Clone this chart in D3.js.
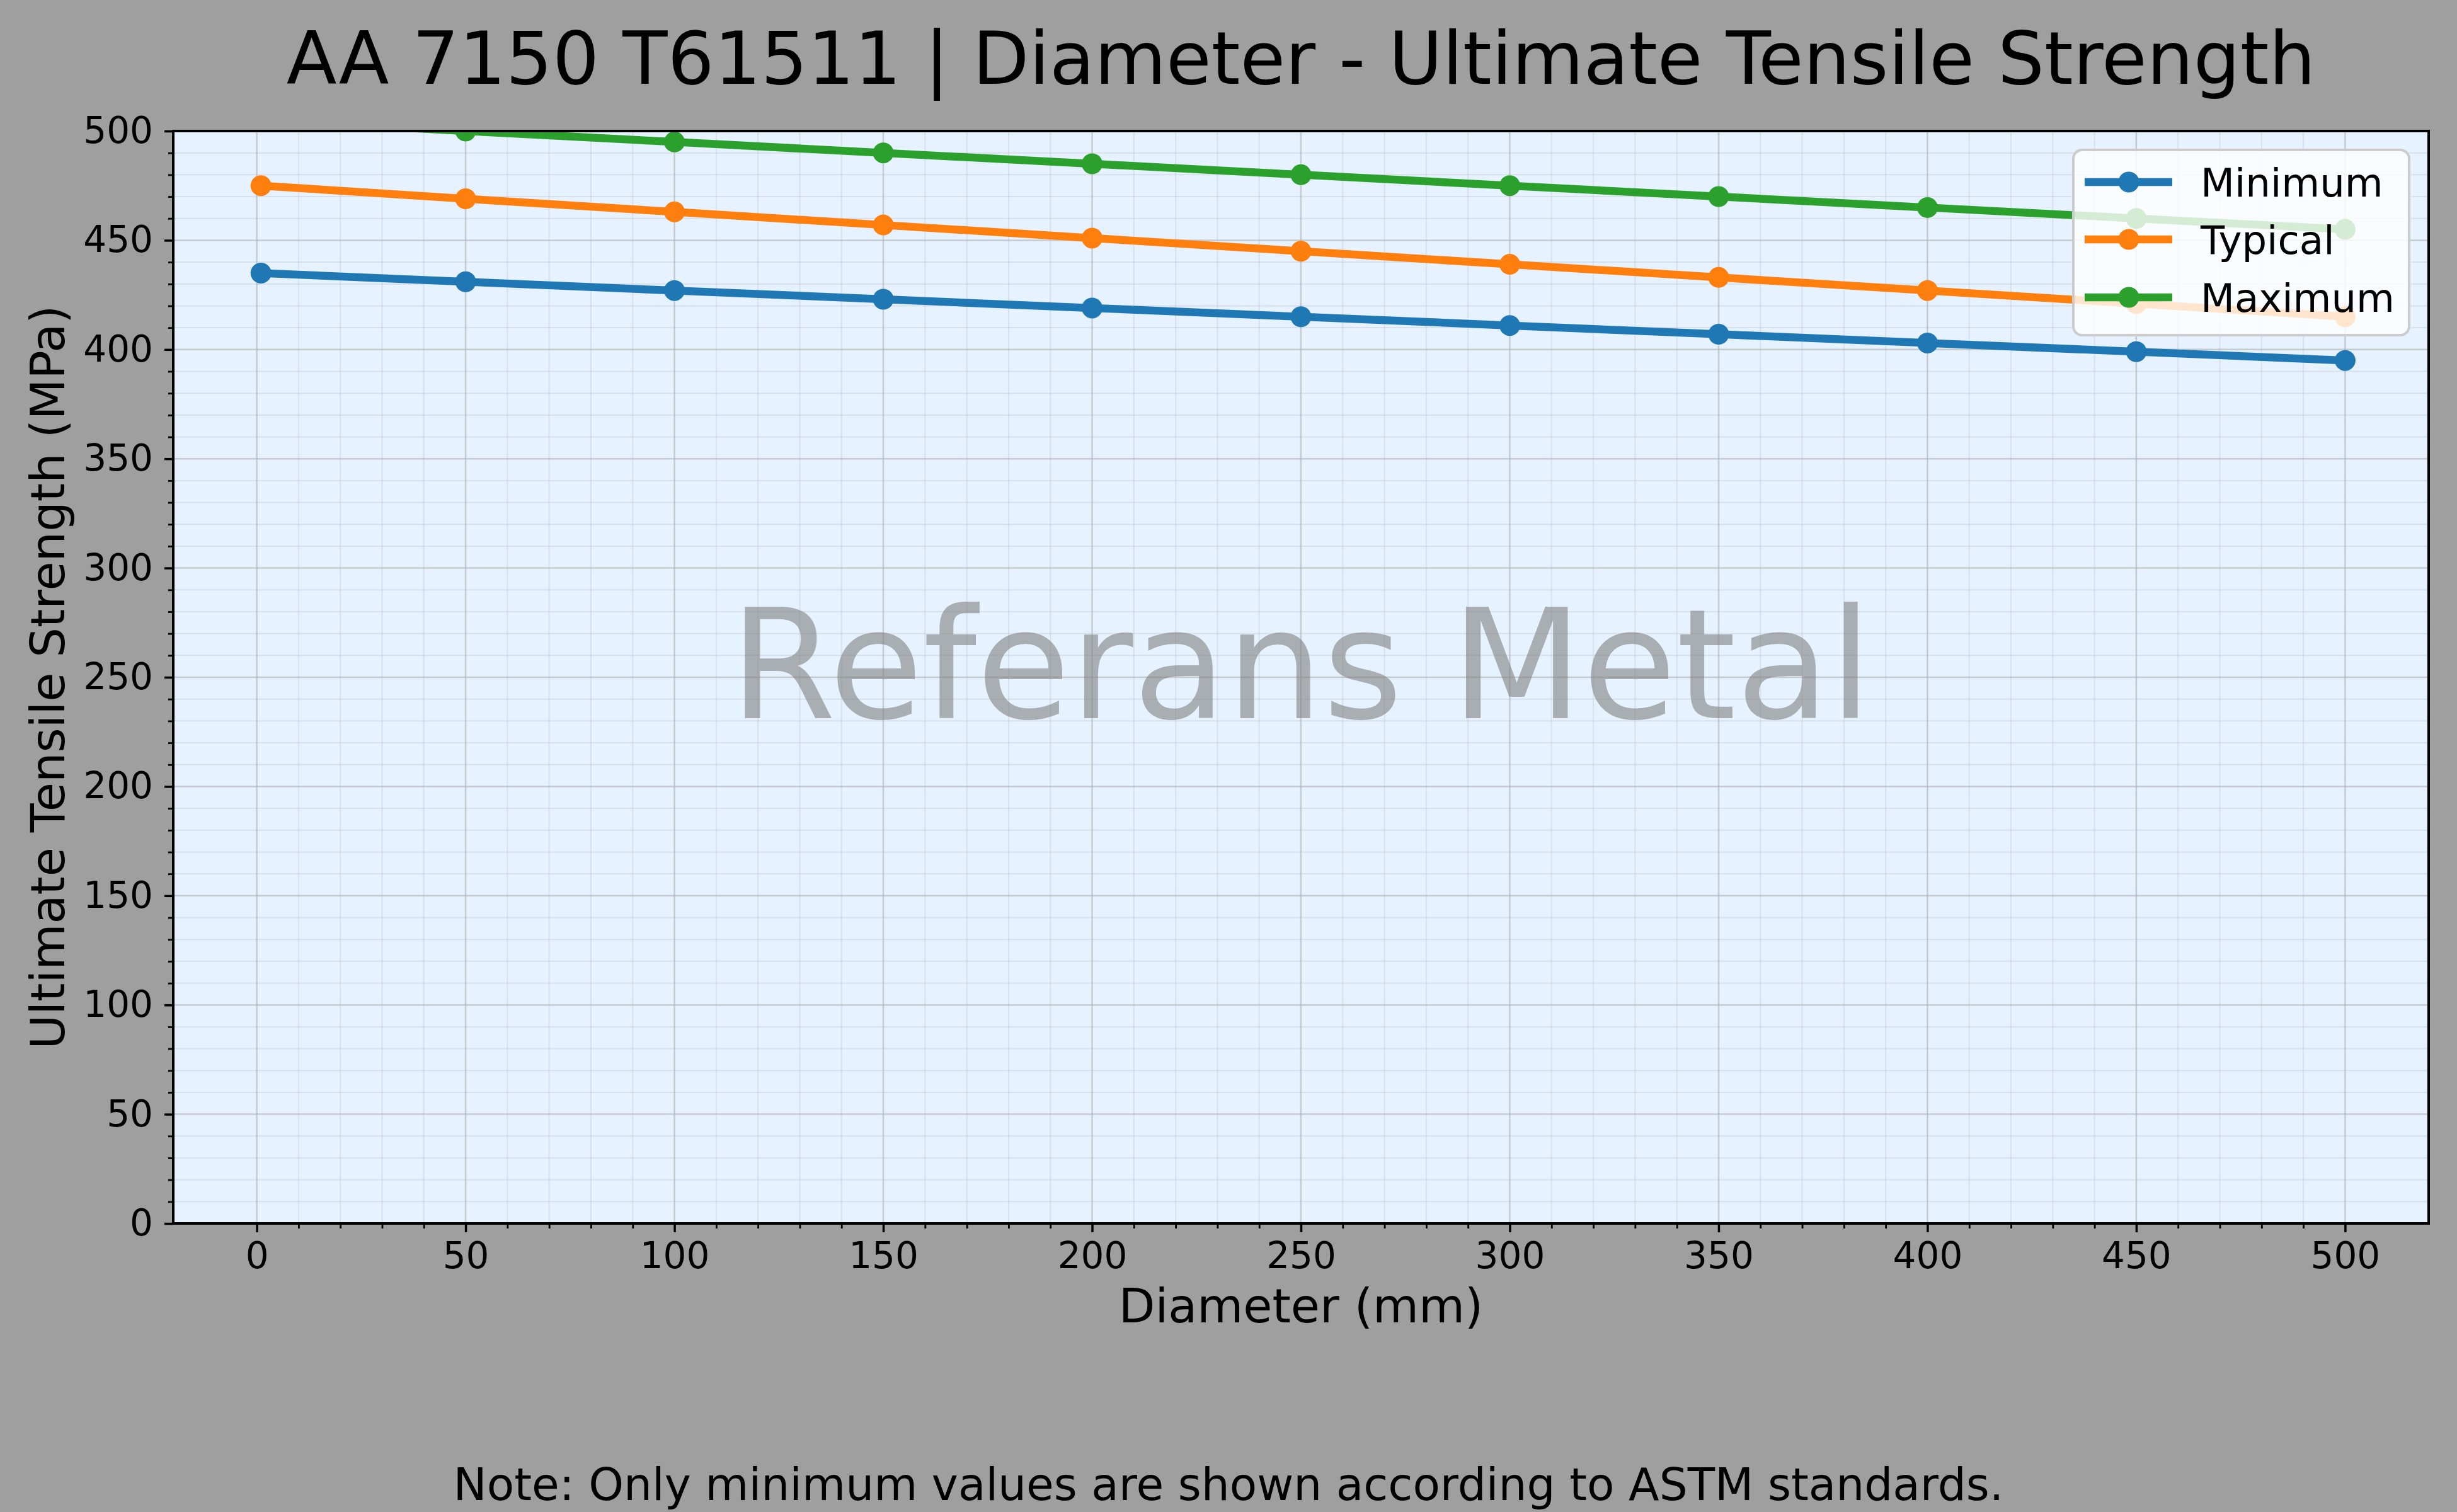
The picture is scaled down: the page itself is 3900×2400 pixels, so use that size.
<!DOCTYPE html>
<html>
<head>
<meta charset="utf-8">
<script src="https://cdn.jsdelivr.net/npm/d3@7"></script>
<style>
  html, body { margin: 0; padding: 0; background: #9f9f9f; }
  svg { display: block; }
  text { font-family: "DejaVu Sans", sans-serif; }
</style>
</head>
<body>
<script>
// ---- data ----
const diameters = [1, 50, 100, 150, 200, 250, 300, 350, 400, 450, 500];
const minimumValues = [435, 431, 427, 423, 419, 415, 411, 407, 403, 399, 395];
const typicalValues = [475, 469, 463, 457, 451, 445, 439, 433, 427, 421, 415];
const maximumValues = [505, 500, 495, 490, 485, 480, 475, 470, 465, 460, 455];
const seriesNames = ["Minimum", "Typical", "Maximum"];
const seriesColors = ["#1f77b4", "#ff7f0e", "#2ca02c"];
const xTickValues = [0, 50, 100, 150, 200, 250, 300, 350, 400, 450, 500];
const yTickValues = [0, 50, 100, 150, 200, 250, 300, 350, 400, 450, 500];
const titleText = "AA 7150 T61511 | Diameter - Ultimate Tensile Strength";
const xLabelText = "Diameter (mm)";
const yLabelText = "Ultimate Tensile Strength (MPa)";
const watermarkText = "Referans Metal";
const noteText = "Note: Only minimum values are shown according to ASTM standards.";

// ---- layout ----
const W = 3900, H = 2400;
const L = 275, R = 3855, T = 208, B = 1942;

const svg = d3.select("body").append("svg").attr("width", W).attr("height", H);
svg.append("rect").attr("width", W).attr("height", H).attr("fill", "#9f9f9f");

const x = d3.scaleLinear().domain([-20, 520]).range([L, R]);
const y = d3.scaleLinear().domain([0, 500]).range([B, T]);

svg.append("defs").append("clipPath").attr("id", "clip")
  .append("rect").attr("x", L).attr("y", T).attr("width", R - L).attr("height", B - T);

// background
svg.append("rect").attr("x", L).attr("y", T).attr("width", R - L).attr("height", B - T).attr("fill", "#e6f2ff");

const minorX = d3.range(0, 501, 10).filter(v => v % 50 !== 0);
const minorY = d3.range(0, 501, 10).filter(v => v % 50 !== 0);

const grid = svg.append("g").attr("clip-path", "url(#clip)");
grid.selectAll(".mx").data(minorX).enter().append("line")
  .attr("x1", d => x(d)).attr("x2", d => x(d)).attr("y1", T).attr("y2", B)
  .attr("stroke", "#b0b0b0").attr("stroke-opacity", 0.25).attr("stroke-width", 2);
grid.selectAll(".my").data(minorY).enter().append("line")
  .attr("x1", L).attr("x2", R).attr("y1", d => y(d)).attr("y2", d => y(d))
  .attr("stroke", "#b0b0b0").attr("stroke-opacity", 0.25).attr("stroke-width", 2);
grid.selectAll(".Mx").data(xTickValues).enter().append("line")
  .attr("x1", d => x(d)).attr("x2", d => x(d)).attr("y1", T).attr("y2", B)
  .attr("stroke", "#b0b0b0").attr("stroke-opacity", 0.6).attr("stroke-width", 2.5);
grid.selectAll(".My").data(yTickValues).enter().append("line")
  .attr("x1", L).attr("x2", R).attr("y1", d => y(d)).attr("y2", d => y(d))
  .attr("stroke", "#b0b0b0").attr("stroke-opacity", 0.6).attr("stroke-width", 2.5);

// watermark
svg.append("text").attr("x", (L + R) / 2).attr("y", 1140)
  .attr("text-anchor", "middle").attr("font-size", 242)
  .attr("fill", "#808080").attr("fill-opacity", 0.6).text(watermarkText);

// series
const allSeries = [minimumValues, typicalValues, maximumValues];
const plot = svg.append("g").attr("clip-path", "url(#clip)");
const lineGen = d3.line().x((d, i) => x(diameters[i])).y(d => y(d));
allSeries.forEach((vals, si) => {
  plot.append("path").datum(vals).attr("d", lineGen)
    .attr("fill", "none").attr("stroke", seriesColors[si]).attr("stroke-width", 12.5)
    .attr("stroke-linejoin", "round").attr("stroke-linecap", "butt");
  plot.selectAll(null).data(vals).enter().append("circle")
    .attr("cx", (d, i) => x(diameters[i])).attr("cy", d => y(d)).attr("r", 16.5)
    .attr("fill", seriesColors[si]);
});

// axes
const xAxis = d3.axisBottom(x).tickValues(xTickValues).tickSize(14).tickPadding(16).tickFormat(d3.format("d"));
const yAxis = d3.axisLeft(y).tickValues(yTickValues).tickSize(14).tickPadding(18).tickFormat(d3.format("d"));
const gx = svg.append("g").attr("transform", `translate(0,${B})`).call(xAxis);
const gy = svg.append("g").attr("transform", `translate(${L},0)`).call(yAxis);
[gx, gy].forEach(g => {
  g.select(".domain").remove();
  g.selectAll(".tick line").attr("stroke", "#000").attr("stroke-width", 3.5);
  g.selectAll(".tick text").attr("font-size", 58).attr("fill", "#000")
    .attr("font-family", "DejaVu Sans, sans-serif");
});
// minor ticks
const gxm = svg.append("g").attr("transform", `translate(0,${B})`)
  .call(d3.axisBottom(x).tickValues(minorX).tickSize(8).tickFormat(""));
const gym = svg.append("g").attr("transform", `translate(${L},0)`)
  .call(d3.axisLeft(y).tickValues(minorY).tickSize(8).tickFormat(""));
[gxm, gym].forEach(g => {
  g.select(".domain").remove();
  g.selectAll(".tick line").attr("stroke", "#000").attr("stroke-width", 2.8);
});

// spines
svg.append("rect").attr("x", L).attr("y", T).attr("width", R - L).attr("height", B - T)
  .attr("fill", "none").attr("stroke", "#000").attr("stroke-width", 4);

// legend
const lg = svg.append("g");
lg.append("rect").attr("x", 3291).attr("y", 238).attr("width", 533).attr("height", 294)
  .attr("rx", 14).attr("ry", 14)
  .attr("fill", "#ffffff").attr("fill-opacity", 0.8)
  .attr("stroke", "#cccccc").attr("stroke-width", 4);
const rowY = [289, 380, 472];
seriesNames.forEach((name, i) => {
  lg.append("line").attr("x1", 3309).attr("x2", 3448).attr("y1", rowY[i]).attr("y2", rowY[i])
    .attr("stroke", seriesColors[i]).attr("stroke-width", 12.5);
  lg.append("circle").attr("cx", 3379).attr("cy", rowY[i]).attr("r", 16.5).attr("fill", seriesColors[i]);
  lg.append("text").attr("x", 3493).attr("y", rowY[i] + 23).attr("font-size", 62.5)
    .attr("fill", "#000").text(name);
});

// titles
svg.append("text").attr("x", (L + R) / 2).attr("y", 133).attr("text-anchor", "middle")
  .attr("font-size", 116.6).attr("fill", "#000").text(titleText);
svg.append("text").attr("x", (L + R) / 2).attr("y", 2099).attr("text-anchor", "middle")
  .attr("font-size", 75).attr("fill", "#000").text(xLabelText);
svg.append("text").attr("transform", `translate(102,${(T + B) / 2}) rotate(-90)`)
  .attr("text-anchor", "middle").attr("font-size", 75).attr("fill", "#000").text(yLabelText);
svg.append("text").attr("x", W / 2).attr("y", 2381).attr("text-anchor", "middle")
  .attr("font-size", 71).attr("fill", "#000").text(noteText);
</script>
</body>
</html>
